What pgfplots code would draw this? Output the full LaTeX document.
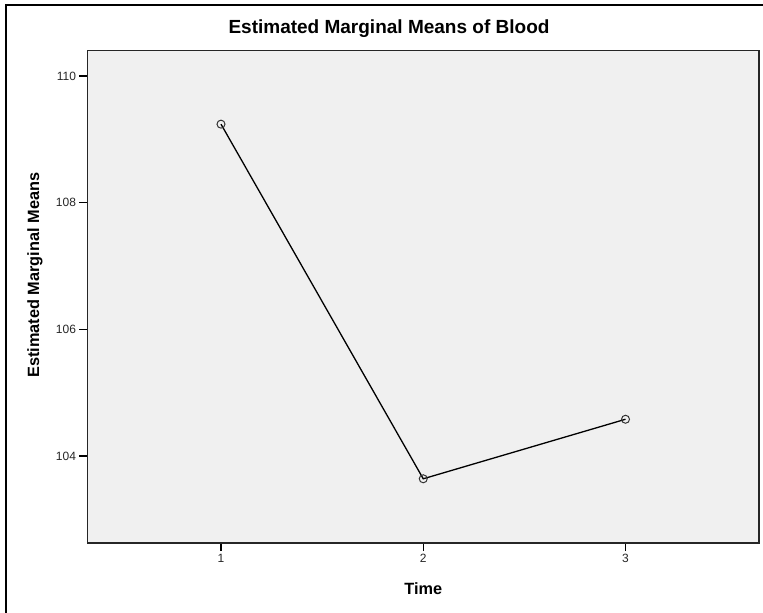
\documentclass[border=0pt]{standalone}
\usepackage{pgfplots}
\pgfplotsset{compat=1.18}
\usepackage{fontspec}
\setmainfont{Liberation Sans}
\definecolor{plotbg}{HTML}{F0F0F0}
\begin{document}
\begin{tikzpicture}[x=1pt,y=1pt]
\begin{axis}[
  at={(87.5pt,70pt)}, anchor=south west,
  scale only axis, width=671.5pt, height=492.3pt,
  xmin=0.34, xmax=3.66, ymin=102.626, ymax=110.40,
  xtick={1,2,3}, ytick={104,106,108,110},
  tick pos=left, tick align=outside, major tick length=8pt,
  every tick/.style={black, line width=1.3pt},
  axis line style={black!85, line width=1.3pt},
  axis background/.style={fill=plotbg},
  /pgf/number format/assume math mode=true,
  tick label style={font=\fontsize{12}{14}\selectfont, text=black!85},
  title={Estimated Marginal Means of Blood},
  title style={font=\bfseries\fontsize{19}{22}\selectfont, at={(axis description cs:0.449,1.0319)}, anchor=center},
  xlabel={Time},
  xlabel style={font=\bfseries\fontsize{16.3}{19}\selectfont, at={(axis description cs:0.5,-0.0934)}, anchor=center},
  ylabel={Estimated Marginal Means},
  ylabel style={font=\bfseries\fontsize{16.3}{19}\selectfont, at={(axis description cs:-0.0782,0.544)}, anchor=center},
]
\addplot[black, line width=1.3pt, mark=o, mark size=4pt, mark options={line width=1pt, black!80}]
  coordinates {(1,109.24) (2,103.64) (3,104.58)};
\end{axis}
\begin{scope}
\clip (0pt,0pt) rectangle (763pt,613pt);
\draw[line width=1.8pt, black] (6pt,-20pt) -- (6pt,608pt) -- (800pt,608pt);
\end{scope}
\pgfresetboundingbox
\useasboundingbox (0pt,0pt) rectangle (763pt,613pt);
\end{tikzpicture}
\end{document}
